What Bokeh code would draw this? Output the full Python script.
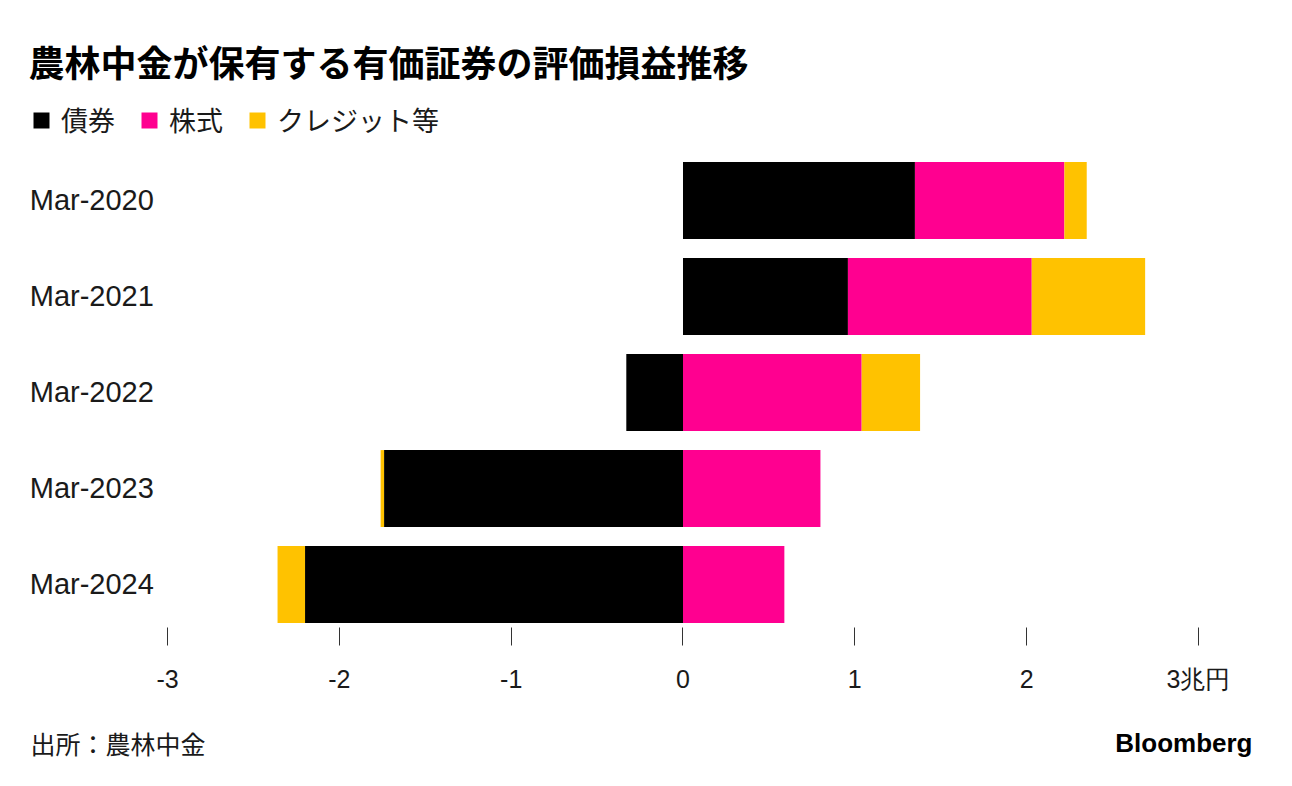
from bokeh.plotting import figure
from bokeh.models import ColumnDataSource, Label, Legend, LegendItem, FixedTicker, Range1d
from bokeh.layouts import column
from bokeh.core.properties import value
from bokeh.embed import file_html
from bokeh.resources import INLINE

# ---- data (兆円) ----
categories = ["Mar-2020", "Mar-2021", "Mar-2022", "Mar-2023", "Mar-2024"]
bonds = [1.35, 0.96, -0.33, -1.74, -2.20]
stocks = [0.87, 1.07, 1.04, 0.80, 0.59]
credit = [0.13, 0.66, 0.34, -0.02, -0.16]
series_names = ["債券", "株式", "クレジット等"]
series_colors = ["#000000", "#ff0090", "#ffc200"]
x_ticks = [-3, -2, -1, 0, 1, 2, 3]
x_tick_labels = ["-3", "-2", "-1", "0", "1", "2", "3兆円"]
title_text = "農林中金が保有する有価証券の評価損益推移"
source_text = "出所：農林中金"
brand_text = "Bloomberg"

CJK = "Noto Sans CJK JP"
LAT = "Liberation Sans"

# row positions: first category at the top
n = len(categories)
ypos = [n - 1 - i for i in range(n)]

# stacking: positives from 0 rightwards, negatives from 0 leftwards
pos_base = [0.0] * n
neg_base = [0.0] * n
stack_sources = []
for vals in (bonds, stocks, credit):
    lefts, rights = [], []
    for i, v in enumerate(vals):
        if v >= 0:
            lefts.append(pos_base[i]); rights.append(pos_base[i] + v); pos_base[i] += v
        else:
            lefts.append(neg_base[i] + v); rights.append(neg_base[i]); neg_base[i] += v
    stack_sources.append(ColumnDataSource(dict(y=ypos, cat=categories, left=lefts, right=rights)))

W = 1276
p = figure(
    width=W, height=705,
    x_range=Range1d(-3.9726, 3.4546),
    y_range=Range1d(-0.448, 6.083),
    output_backend="svg", toolbar_location=None,
    min_border_left=0, min_border_right=0, min_border_top=0, min_border_bottom=78,
)
p.outline_line_color = None
p.background_fill_color = "white"
p.border_fill_color = "white"
p.xgrid.visible = False
p.ygrid.visible = False
p.yaxis.visible = False

renderers = []
for src, col in zip(stack_sources, series_colors):
    r = p.hbar(y="y", left="left", right="right", height=0.8, source=src,
               fill_color=col, line_color=None)
    renderers.append(r)

# category labels, right-aligned just left of the -3 tick
cat_src = ColumnDataSource(dict(y=ypos, cat=categories, x=[-3.08] * n))
p.text(x="x", y="y", text="cat", source=cat_src, text_align="right",
       text_baseline="middle", text_font=value(LAT), text_font_size="29px",
       text_color="#1a1a1a")

# x axis
xa = p.xaxis[0]
xa.ticker = FixedTicker(ticks=x_ticks)
xa.major_label_overrides = {t: l for t, l in zip(x_ticks, x_tick_labels)}
xa.axis_line_color = None
xa.minor_tick_line_color = None
xa.major_tick_in = 0
xa.major_tick_out = 18
xa.major_tick_line_color = "#333333"
xa.major_tick_line_width = 1
xa.major_label_standoff = 19
xa.major_label_text_font = LAT
xa.major_label_text_font_size = "25px"
xa.major_label_text_color = "#1a1a1a"

# legend (frame-relative position)
legend = Legend(
    items=[LegendItem(label=nm, renderers=[r]) for nm, r in zip(series_names, renderers)],
    orientation="horizontal", location=(31, 488),
    glyph_width=20, glyph_height=20, label_standoff=10, spacing=24,
    padding=0, margin=0, border_line_color=None, background_fill_alpha=0,
    label_text_font=CJK, label_text_font_size="27px", label_text_color="#1a1a1a",
)
p.add_layout(legend, "center")

# title (frame-relative screen units; frame spans the whole width)
p.add_layout(Label(x=28, y=567, x_units="screen", y_units="screen", text=title_text,
                   text_font=CJK, text_font_size="36px", text_font_style="bold",
                   text_color="#000000", text_baseline="middle", text_align="left"))

# footer
footer = figure(width=W, height=65, output_backend="svg", toolbar_location=None,
                x_range=Range1d(0, 1), y_range=Range1d(0, 1),
                min_border_left=0, min_border_right=0,
                min_border_top=0, min_border_bottom=0)
footer.axis.visible = False
footer.grid.visible = False
footer.outline_line_color = None
footer.add_layout(Label(x=30, y=28, x_units="screen", y_units="screen", text=source_text,
                        text_font=CJK, text_font_size="25px", text_color="#1a1a1a",
                        text_baseline="middle", text_align="left"))
footer.add_layout(Label(x=1252, y=28, x_units="screen", y_units="screen", text=brand_text,
                        text_font=LAT, text_font_size="26px", text_font_style="bold",
                        text_color="#000000", text_baseline="middle", text_align="right"))

layout = column(p, footer, spacing=0)
open("out.html", "w").write(file_html(layout, INLINE))
